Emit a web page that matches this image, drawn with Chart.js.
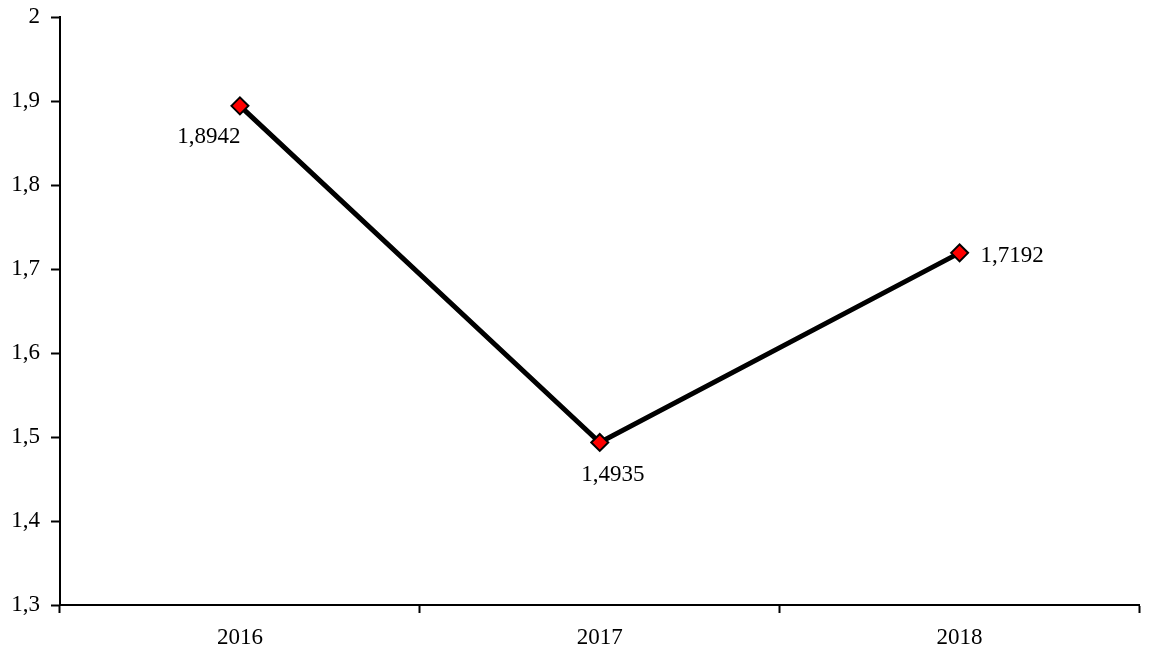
<!DOCTYPE html>
<html>
<head>
<meta charset="utf-8">
<script src="https://cdn.jsdelivr.net/npm/chart.js@4"></script>
<style>
  html, body { margin: 0; padding: 0; background: #fff; }
  #wrap { width: 1150px; height: 664px; }
</style>
</head>
<body>
<div id="wrap"><canvas id="line-chart"></canvas></div>
<script>
// data
const years = ['2016', '2017', '2018'];
const values = [1.8942, 1.4935, 1.7192];
const yTicks = [1.3, 1.4, 1.5, 1.6, 1.7, 1.8, 1.9, 2];

const fmt = v => String(Number(v.toFixed(4))).replace('.', ',');
const FONT = "'Liberation Serif', 'Times New Roman', serif";

// where each value label sits relative to its point
const labelPlace = ['belowLeft', 'below', 'right'];

const valueLabels = {
    id: 'valueLabels',
    afterDatasetsDraw(chart) {
        const ctx = chart.ctx;
        const meta = chart.getDatasetMeta(0);
        ctx.save();
        ctx.font = '23px ' + FONT;
        ctx.fillStyle = '#000';
        ctx.textBaseline = 'middle';
        meta.data.forEach((pt, i) => {
            const txt = fmt(values[i]);
            const place = labelPlace[i];
            if (place === 'belowLeft') {
                ctx.textAlign = 'center';
                ctx.fillText(txt, pt.x - 31, pt.y + 31);
            } else if (place === 'below') {
                ctx.textAlign = 'center';
                ctx.fillText(txt, pt.x + 13, pt.y + 32);
            } else {
                ctx.textAlign = 'left';
                ctx.fillText(txt, pt.x + 21, pt.y + 3);
            }
        });
        ctx.restore();
    }
};

const lineChartElem = document.getElementById('line-chart').getContext('2d');
const lineChart = new Chart(lineChartElem, {
    type: 'line',
    data: {
        labels: years,
        datasets: [{
            data: values,
            borderColor: '#000',
            borderWidth: 5,
            tension: 0,
            pointStyle: 'rectRot',
            pointRadius: 8.5,
            pointHoverRadius: 8.5,
            pointBackgroundColor: '#ff0000',
            pointBorderColor: '#000',
            pointBorderWidth: 2
        }]
    },
    options: {
        responsive: true,
        maintainAspectRatio: false,
        animation: false,
        layout: { padding: { top: 17, right: 6, left: 0, bottom: 0 } },
        plugins: {
            legend: { display: false },
            tooltip: { enabled: false }
        },
        scales: {
            x: {
                offset: true,
                grid: {
                    offset: true,
                    drawOnChartArea: false,
                    drawTicks: true,
                    tickLength: 8,
                    color: '#000',
                    tickWidth: 2
                },
                border: { color: '#000', width: 2 },
                ticks: {
                    color: '#000',
                    font: { family: FONT, size: 23 },
                    padding: 11,
                    maxRotation: 0
                },
                afterFit(scale) {
                    scale.height = 59;
                    scale.paddingLeft = 0;
                    scale.paddingRight = 0;
                }
            },
            y: {
                min: 1.3,
                max: 2,
                afterBuildTicks(scale) { scale.ticks = yTicks.map(v => ({ value: v })); },
                grid: {
                    drawOnChartArea: false,
                    drawTicks: true,
                    tickLength: 9,
                    color: '#000',
                    tickWidth: 2
                },
                border: { color: '#000', width: 2 },
                ticks: {
                    color: '#000',
                    font: { family: FONT, size: 23 },
                    padding: 11,
                    callback: v => String(Number(v.toFixed(1))).replace('.', ',')
                },
                afterFit(scale) {
                    scale.width = 60;
                    scale.paddingTop = 0;
                    scale.paddingBottom = 0;
                }
            }
        }
    },
    plugins: [valueLabels]
});
</script>
</body>
</html>
